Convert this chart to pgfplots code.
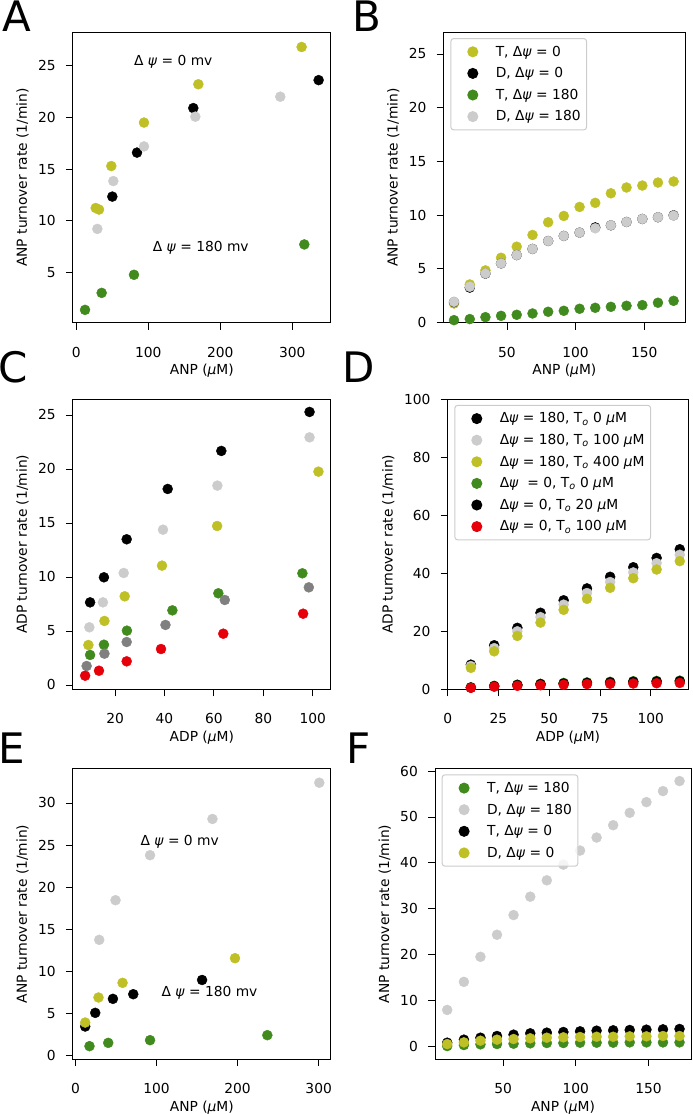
\documentclass[border=0pt]{standalone}
\usepackage{fontspec}
\setmainfont{DejaVu Sans}[ItalicFont={DejaVu Sans Oblique}]
\usepackage{pgfplots}
\pgfplotsset{compat=1.18}
\usetikzlibrary{calc}

\definecolor{cy}{RGB}{191,191,38}
\definecolor{cg}{RGB}{65,138,30}
\definecolor{cl}{RGB}{204,204,204}
\definecolor{cd}{RGB}{128,128,128}
\definecolor{cr}{RGB}{230,0,10}
\definecolor{cf}{RGB}{204,204,204}

\newcommand\fs{\fontsize{13.8pt}{16pt}\selectfont}
\newcommand\panelfont{\fontsize{42pt}{50pt}\selectfont}
\newcommand\ps{\textit{ψ}}
\newcommand\mum{\textit{μ}M}
\newcommand\To{T\textsubscript{\textit{o}}}

\pgfplotsset{
  panel/.style={scale only axis, anchor=north west,
    axis line style={line width=0.9pt},
    tick style={line width=0.9pt, black},
    tick align=outside, major tick length=7pt, tick pos=left,
    font=\fs, /pgf/number format/assume math mode=true,
    xticklabel style={anchor=base, yshift=-27.5pt, inner sep=0pt},
    yticklabel style={anchor=base east, yshift=-5pt, xshift=-10pt, inner sep=0pt},
    ylabel style={at={($(axis description cs:0,0.5)+(-46pt,0pt)$)}, anchor=base},
    xlabel style={at={(axis description cs:0.5,0)}, anchor=base, yshift=-52pt},
  },
  dot/.style={only marks, mark=*, mark size=5pt, color=#1, mark options={draw=none},
    legend image code/.code={\path[draw=none, fill=none] (0pt,-5pt) rectangle (39pt,5pt);
      \draw[##1, fill opacity=1] plot coordinates {(16pt,0pt)};}},
  leg/.style={legend style={at={(0,1)}, anchor=north west, xshift=6.6pt, yshift=-5.5pt,
    draw=cf, line width=1pt, rounded corners=3pt, fill=white, fill opacity=0.8, text opacity=1,
    inner xsep=6pt, inner ysep=2.5pt, font=\fs,
    nodes={inner sep=0pt, text height=15.1pt, text depth=6.5pt},
    row sep=0pt, column sep=0pt}, legend cell align=left},
}

\begin{document}
\begin{tikzpicture}
% panel letters
\node[anchor=base west, inner sep=0pt, font=\panelfont] at (2.5pt,-31pt) {A};
\node[anchor=base west, inner sep=0pt, font=\panelfont] at (352pt,-31pt) {B};
\node[anchor=base west, inner sep=0pt, font=\panelfont] at (-1.5pt,-382.5pt) {C};
\node[anchor=base west, inner sep=0pt, font=\panelfont] at (342.7pt,-382.5pt) {D};
\node[anchor=base west, inner sep=0pt, font=\panelfont] at (-2pt,-763.5pt) {E};
\node[anchor=base west, inner sep=0pt, font=\panelfont] at (346pt,-763.5pt) {F};

% ---------------- A
\begin{axis}[panel, at={(72.8pt,-32.5pt)}, width=258pt, height=290pt,
  xmin=-4.9, xmax=353.5, ymin=0.19, ymax=28.2,
  xtick={0,100,200,300}, ytick={5,10,15,20,25},
  xlabel={ANP (\mum)}, ylabel={ANP turnover rate (1/min)}]
\addplot[dot=cy] coordinates {(26.9,11.25) (31.5,11.1) (48.6,15.3) (94,19.5) (169.5,23.2) (313,26.8)};
\addplot[dot=black] coordinates {(50,12.35) (84.3,16.6) (162.5,20.9) (336.6,23.6)};
\addplot[dot=cg] coordinates {(12.1,1.41) (35.2,3.05) (80.1,4.8) (316.7,7.73)};
\addplot[dot=cl] coordinates {(29.2,9.23) (51.4,13.85) (94,17.2) (165.3,20.07) (283.3,22.0)};
\node[anchor=base west, inner sep=0pt] at (axis cs:80,25) {Δ \ps{} = 0 mv};
\node[anchor=base west, inner sep=0pt] at (axis cs:106,7) {Δ \ps{} = 180 mv};
\end{axis}

% ---------------- B
\begin{axis}[panel, leg, at={(443.7pt,-32.5pt)}, width=241.3pt, height=290pt,
  xmin=3.9, xmax=179.7, ymin=0, ymax=27,
  xtick={50,100,150}, ytick={0,5,10,15,20,25},
  xlabel={ANP (\mum)}, ylabel={ANP turnover rate (1/min)}]
\addplot[dot=cy] coordinates {(11.4,1.77) (22.9,3.54) (34.3,4.85) (45.7,6.03) (57.1,7.06) (68.6,8.15) (80.0,9.33) (91.4,9.92) (102.9,10.76) (114.3,11.14) (125.7,12.03) (137.1,12.57) (148.6,12.75) (160.0,13.03) (171.4,13.13)};
\addlegendentry{T, Δ\ps{} = 0}
\addplot[dot=black] coordinates {(11.4,1.9) (22.9,3.25) (34.3,4.55) (45.7,5.5) (57.1,6.28) (68.6,6.85) (80.0,7.59) (91.4,8.06) (102.9,8.37) (114.3,8.85) (125.7,9.05) (137.1,9.36) (148.6,9.64) (160.0,9.8) (171.4,9.98)};
\addlegendentry{D, Δ\ps{} = 0}
\addplot[dot=cg] coordinates {(11.4,0.22) (22.9,0.32) (34.3,0.5) (45.7,0.62) (57.1,0.72) (68.6,0.84) (80.0,1.0) (91.4,1.09) (102.9,1.28) (114.3,1.37) (125.7,1.46) (137.1,1.56) (148.6,1.62) (160.0,1.84) (171.4,2.02)};
\addlegendentry{T, Δ\ps{} = 180}
\addplot[dot=cl] coordinates {(11.4,1.93) (22.9,3.33) (34.3,4.57) (45.7,5.5) (57.1,6.28) (68.6,6.85) (80.0,7.59) (91.4,8.06) (102.9,8.37) (114.3,8.77) (125.7,9.05) (137.1,9.36) (148.6,9.64) (160.0,9.8) (171.4,9.95)};
\addlegendentry{D, Δ\ps{} = 180}
\end{axis}

% ---------------- C
\begin{axis}[panel, at={(72.8pt,-399.3pt)}, width=258pt, height=290pt,
  xmin=2.9, xmax=107.3, ymin=-0.4, ymax=26.45,
  xtick={20,40,60,80,100}, ytick={0,5,10,15,20,25},
  xlabel={ADP (\mum)}, ylabel={ADP turnover rate (1/min)}]
\addplot[dot=black] coordinates {(9.9,7.65) (15.5,9.97) (24.7,13.49) (41.3,18.15) (63.0,21.67) (98.7,25.28)};
\addplot[dot=cl] coordinates {(9.6,5.34) (15.1,7.65) (23.5,10.37) (39.4,14.38) (61.4,18.46) (98.7,22.93)};
\addplot[dot=cy] coordinates {(9.2,3.7) (15.7,5.93) (23.9,8.21) (39.0,11.05) (61.3,14.72) (102.3,19.75)};
\addplot[dot=cg] coordinates {(9.9,2.78) (15.5,3.73) (24.8,5.03) (43.2,6.91) (61.8,8.49) (95.8,10.34)};
\addplot[dot=cd] coordinates {(8.5,1.76) (15.7,2.9) (24.7,3.98) (40.4,5.56) (64.4,7.87) (98.4,9.04)};
\addplot[dot=cr] coordinates {(7.9,0.86) (13.5,1.32) (24.7,2.19) (38.6,3.33) (63.8,4.75) (96.1,6.6)};
\end{axis}

% ---------------- D
\begin{axis}[panel, leg, at={(447.7pt,-399.3pt)}, width=240.6pt, height=290pt,
  xmin=0, xmax=118.5, ymin=0, ymax=100,
  xtick={0,25,50,75,100}, ytick={0,20,40,60,80,100},
  ylabel style={at={($(axis description cs:0,0.5)+(-55pt,0pt)$)}, anchor=base},
  xlabel={ADP (\mum)}, ylabel={ADP turnover rate (1/min)}]
\addplot[dot=black] coordinates {(11.4,8.5) (22.9,15.2) (34.3,21.2) (45.7,26.4) (57.1,30.7) (68.6,34.8) (80.0,38.8) (91.4,42.1) (102.9,45.3) (114.3,48.3)};
\addlegendentry{Δ\ps{} = 180, \To{} 0 \mum}
\addplot[dot=cl] coordinates {(11.4,8.0) (22.9,14.2) (34.3,20.0) (45.7,24.9) (57.1,29.2) (68.6,33.2) (80.0,37.0) (91.4,40.3) (102.9,43.5) (114.3,46.4)};
\addlegendentry{Δ\ps{} = 180, \To{} 100 \mum}
\addplot[dot=cy] coordinates {(11.4,7.4) (22.9,13.1) (34.3,18.4) (45.7,23.0) (57.1,27.4) (68.6,31.2) (80.0,35.0) (91.4,38.3) (102.9,41.3) (114.3,44.2)};
\addlegendentry{Δ\ps{} = 180, \To{} 400 \mum}
\addplot[dot=cg] coordinates {(11.4,0.7) (22.9,1.2) (34.3,1.6) (45.7,1.9) (57.1,2.2) (68.6,2.4) (80.0,2.6) (91.4,2.8) (102.9,2.9) (114.3,3.0)};
\addlegendentry{Δ\ps\ \ = 0, \To{} 0 \mum}
\addplot[dot=black] coordinates {(11.4,0.6) (22.9,1.1) (34.3,1.5) (45.7,1.8) (57.1,2.0) (68.6,2.2) (80.0,2.4) (91.4,2.6) (102.9,2.7) (114.3,2.8)};
\addlegendentry{Δ\ps{} = 0, \To{} 20 \mum}
\addplot[dot=cr] coordinates {(11.4,0.5) (22.9,0.9) (34.3,1.2) (45.7,1.4) (57.1,1.6) (68.6,1.8) (80.0,1.9) (91.4,2.0) (102.9,2.1) (114.3,2.2)};
\addlegendentry{Δ\ps{} = 0, \To{} 100 \mum}
\end{axis}

% ---------------- E
\begin{axis}[panel, at={(72.8pt,-768.8pt)}, width=258pt, height=290.4pt,
  xmin=-3.3, xmax=315, ymin=-0.4, ymax=34.05,
  xtick={0,100,200,300}, ytick={0,5,10,15,20,25,30},
  xlabel={ANP (\mum)}, ylabel={ANP turnover rate (1/min)}]
\addplot[dot=cg] coordinates {(17.3,1.15) (40.4,1.54) (92,1.86) (236.7,2.45)};
\addplot[dot=cl] coordinates {(29.3,13.76) (49.4,18.46) (92,23.8) (169,28.1) (300.8,32.4)};
\addplot[dot=black] coordinates {(12,3.48) (24.4,5.1) (46.2,6.76) (71.3,7.31) (156.2,9.0)};
\addplot[dot=cy] coordinates {(12,3.95) (28.4,6.92) (58.1,8.66) (196.8,11.58)};
\node[anchor=base west, inner sep=0pt] at (axis cs:80,25) {Δ \ps{} = 0 mv};
\node[anchor=base west, inner sep=0pt] at (axis cs:106,7) {Δ \ps{} = 180 mv};
\end{axis}

% ---------------- F
\begin{axis}[panel, leg, at={(435pt,-768.8pt)}, width=256pt, height=290.4pt,
  xmin=3, xmax=179.3, ymin=-2.8, ymax=60.5,
  xtick={50,100,150}, ytick={0,10,20,30,40,50,60},
  xlabel={ANP (\mum)}, ylabel={ANP turnover rate (1/min)}]
\addplot[dot=cg] coordinates {(11.4,0.07) (22.9,0.29) (34.3,0.44) (45.7,0.51) (57.1,0.58) (68.6,0.66) (80.0,0.73) (91.4,0.73) (102.9,0.8) (114.3,0.8) (125.7,0.8) (137.1,0.87) (148.6,0.87) (160.0,0.87) (171.4,0.87)};
\addlegendentry{T, Δ\ps{} = 180}
\addplot[dot=cl] coordinates {(11.4,7.94) (22.9,14.06) (34.3,19.52) (45.7,24.33) (57.1,28.62) (68.6,32.63) (80.0,36.2) (91.4,39.62) (102.9,42.68) (114.3,45.52) (125.7,48.21) (137.1,50.91) (148.6,53.24) (160.0,55.64) (171.4,57.83)};
\addlegendentry{D, Δ\ps{} = 180}
\addplot[dot=black] coordinates {(11.4,0.8) (22.9,1.46) (34.3,1.89) (45.7,2.26) (57.1,2.55) (68.6,2.84) (80.0,2.99) (91.4,3.13) (102.9,3.28) (114.3,3.42) (125.7,3.5) (137.1,3.57) (148.6,3.64) (160.0,3.71) (171.4,3.79)};
\addlegendentry{T, Δ\ps{} = 0}
\addplot[dot=cy] coordinates {(11.4,0.5) (22.9,0.87) (34.3,1.24) (45.7,1.46) (57.1,1.6) (68.6,1.75) (80.0,1.89) (91.4,1.97) (102.9,2.04) (114.3,2.1) (125.7,2.1) (137.1,2.18) (148.6,2.18) (160.0,2.26) (171.4,2.26)};
\addlegendentry{D, Δ\ps{} = 0}
\end{axis}

\pgfresetboundingbox
\path[use as bounding box] (0,0) rectangle (693pt,-1114pt);
\end{tikzpicture}
\end{document}
